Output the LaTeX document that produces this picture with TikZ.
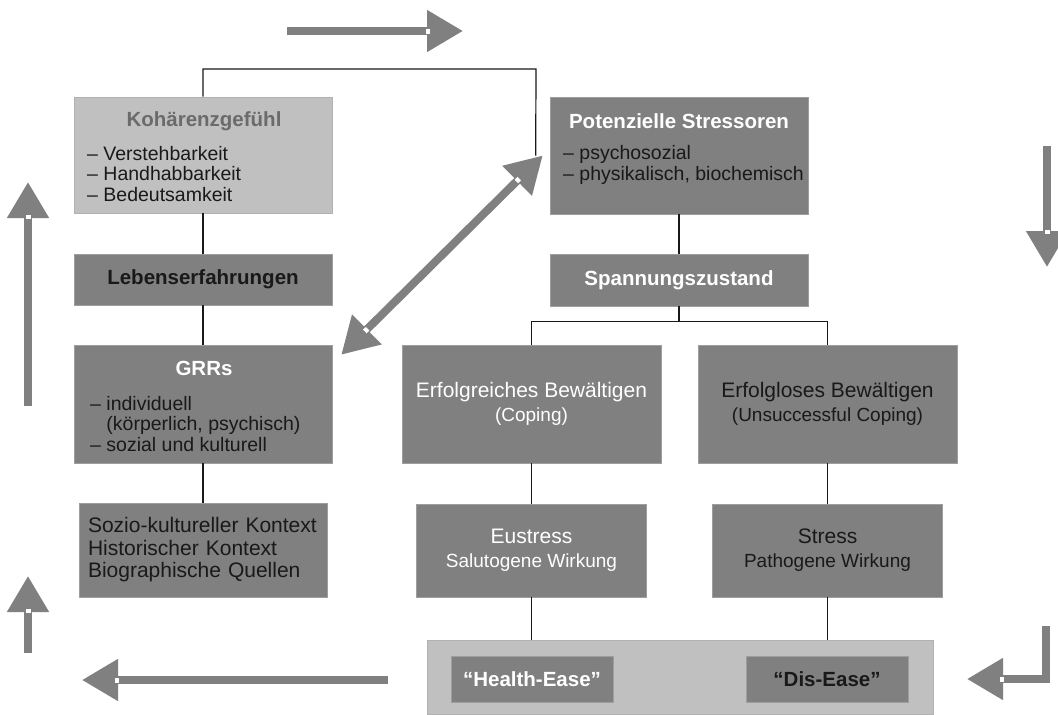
\documentclass[tikz,border=0pt]{standalone}
\usepackage{fontspec}
\setmainfont{Liberation Sans}
\usetikzlibrary{arrows.meta}
\usetikzlibrary{positioning,calc}
\definecolor{boxgray}{rgb}{0.5020,0.5020,0.5020}
\definecolor{boxgray2}{rgb}{0.7529,0.7529,0.7529}
\definecolor{edgegray}{rgb}{0.6200,0.6200,0.6200}
\definecolor{titlegray}{rgb}{0.4200,0.4200,0.4200}
\definecolor{ink}{rgb}{0.1000,0.1000,0.1000}
\tikzset{box/.style={rectangle, fill=boxgray, draw=edgegray, line width=0.6pt, inner sep=0pt,
text=ink, align=center, font=\fontsize{21}{24}\selectfont},
boxL/.style={box, fill=boxgray2, draw=edgegray!80},
boxB/.style={box, font=\bfseries\fontsize{20.5}{22}\selectfont},
heading/.style={inner sep=0pt, font=\bfseries\fontsize{20.5}{22}\selectfont},
itemlist/.style={inner sep=0pt, anchor=west, align=left, text=ink, font=\fontsize{19.5}{20.5}\selectfont},
link/.style={draw=ink, line width=1.2pt},
bigarrow/.style={draw=boxgray, line width=8pt, line join=miter},
notch/.style={draw=white, line width=5pt},
>={Triangle[length=36pt,width=40pt]}}

\begin{document}
\begin{tikzpicture}[x=1pt,y=-1pt]
  \useasboundingbox (0,0) rectangle (1058,715);

  \node[boxL, minimum width=258pt, minimum height=116pt] (koh) at (203,155) {};
  \node[heading, text=titlegray] (kohT) at (204,121) {Kohärenzgefühl};
  \node[itemlist] (kohL) at (87,174) {– Verstehbarkeit\\– Handhabbarkeit\\– Bedeutsamkeit};
  \node[boxB, minimum width=258pt, minimum height=51pt] (leb) at (203,279.5) {Lebenserfahrungen};
  \node[box, minimum width=258pt, minimum height=118pt] (grr) at (203,404) {};
  \node[heading, text=white] (grrT) at (204,368) {GRRs};
  \node[itemlist] (grrL) at (90,424) {– individuell\\\phantom{– }(körperlich, psychisch)\\– sozial und kulturell};
  \node[box, minimum width=248pt, minimum height=94pt, text width=230pt, align=left,
    font=\fontsize{21}{22.5}\selectfont] (soz) at (203,550) {Sozio-kultureller Kontext\\Historischer Kontext\\Biographische Quellen};

  \node[box, minimum width=258pt, minimum height=117pt] (pot) at (679,155.5) {};
  \node[heading, text=white] (potT) at (679,121) {Potenzielle Stressoren};
  \node[itemlist] (potL) at (563,165) {– psychosozial\\– physikalisch, biochemisch};
  \node[boxB, text=white, minimum width=258pt, minimum height=52pt] (spa) at (679,280) {Spannungszustand};
  \node[box, text=white, minimum width=259pt, minimum height=118pt] (erf) at (531.5,404) {Erfolgreiches Bewältigen\\\fontsize{19}{24}\selectfont (Coping)};
  \node[box, minimum width=259pt, minimum height=118pt] (erl) at (827.5,404) {Erfolgloses Bewältigen\\\fontsize{19}{24}\selectfont (Unsuccessful Coping)};
  \node[box, text=white, minimum width=230pt, minimum height=93pt] (eus) at (531.5,550.5) {Eustress\\\fontsize{19}{23}\selectfont Salutogene Wirkung};
  \node[box, minimum width=230pt, minimum height=93pt] (str) at (827.5,550.5) {Stress\\\fontsize{19}{23}\selectfont Pathogene Wirkung};
  \node[boxL, minimum width=506pt, minimum height=74pt] (ease) at (680,677) {};
  \node[boxB, text=white, minimum width=162pt, minimum height=46pt] (hea) at (532,679) {“Health-Ease”};
  \node[boxB, minimum width=162pt, minimum height=46pt] (dis) at (827,679) {“Dis-Ease”};

  \coordinate (kohbend) at (536,69);
  \coordinate (split) at ([yshift=-15pt]spa.south);
  \coordinate (dgA) at ([xshift=9pt,yshift=-10pt]grr.north east);
  \coordinate (dgB) at ([xshift=-7pt]pot.west);
  \coordinate (topA) at (287,31);
  \coordinate (topB) at (463,31);
  \coordinate (rdA) at (1047,146);
  \coordinate (rdB) at (1047,267);
  \coordinate (luA) at (28,406);
  \coordinate (luB) at (28,182);
  \coordinate (lsA) at (28,653);
  \coordinate (lsB) at (28,576);
  \coordinate (blA) at (388,680);
  \coordinate (blB) at (82,680);
  \coordinate (brA) at (1046,626);
  \coordinate (brC) at (1046,679);
  \coordinate (brB) at (967,679);

\draw[link]
(koh.north) |- (kohbend) -- ([xshift=-14pt]pot.west);
\draw
(koh)
   edge [link]
(leb);
\draw
(leb)
   edge [link]
(grr);
\draw
(grr)
   edge [link]
(soz);
\draw
(pot)
   edge [link]
(spa);
\draw[link]
(spa) -- (split) -| (erf.north);
\draw[link]
(split) -| (erl.north);
\draw
(erf)
   edge [link]
(eus);
\draw
(erl)
   edge [link]
(str);
\draw
(eus)
   edge [link]
(eus |- ease.north);
\draw
(str)
   edge [link]
(str |- ease.north);

\draw[bigarrow, <->] (dgA) -- (dgB);
\draw[bigarrow, ->] (topA) -- (topB);
\draw[bigarrow, ->] (rdA) -- (rdB);
\draw[bigarrow, ->] (luA) -- (luB);
\draw[bigarrow, ->] (lsA) -- (lsB);
\draw[bigarrow, ->] (blA) -- (blB);
\draw[bigarrow, ->] (brA) |- (brB);

\draw[notch] ($(dgB)!33pt!(dgA)$) -- ($(dgB)!37pt!(dgA)$);
\draw[notch] ($(dgA)!33pt!(dgB)$) -- ($(dgA)!37pt!(dgB)$);
\draw[notch] ($(topB)!33pt!(topA)$) -- ($(topB)!37pt!(topA)$);
\draw[notch] ($(rdB)!33pt!(rdA)$) -- ($(rdB)!37pt!(rdA)$);
\draw[notch] ($(luB)!33pt!(luA)$) -- ($(luB)!37pt!(luA)$);
\draw[notch] ($(lsB)!33pt!(lsA)$) -- ($(lsB)!37pt!(lsA)$);
\draw[notch] ($(blB)!33pt!(blA)$) -- ($(blB)!37pt!(blA)$);
\draw[notch] ($(brB)!33pt!(brC)$) -- ($(brB)!37pt!(brC)$);
\end{tikzpicture}
\end{document}
